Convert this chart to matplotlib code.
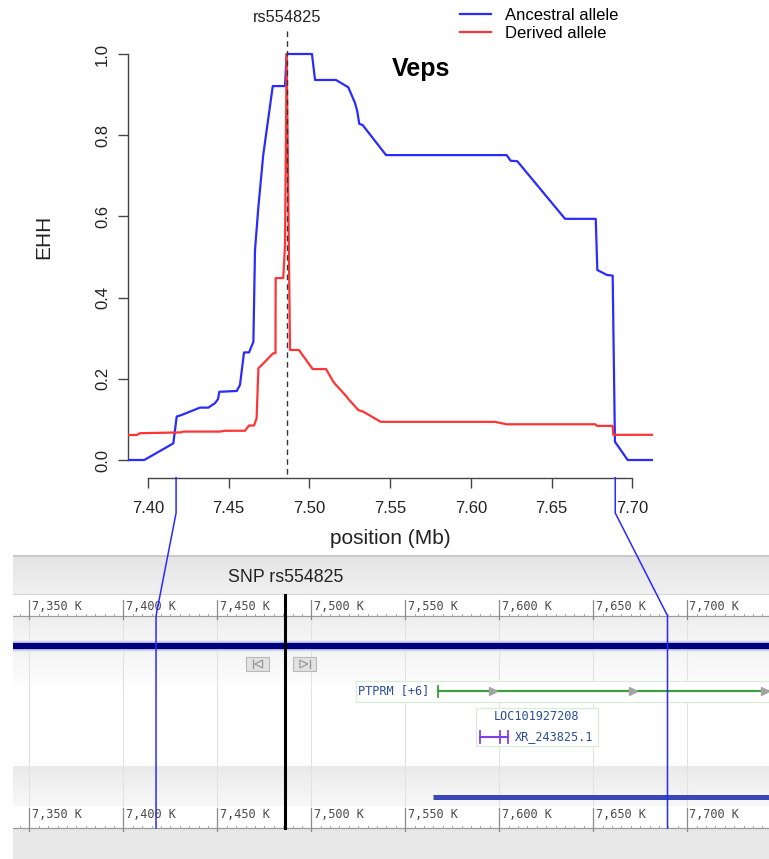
import numpy as np
import matplotlib
matplotlib.use("Agg")
import matplotlib.pyplot as plt
from matplotlib.patches import Rectangle, Polygon

# ---------------- data ----------------
pos_anc = [7.3878, 7.3977, 7.4157, 7.4178, 7.4209, 7.4322, 7.4374, 7.4415, 7.4434, 7.4442,
           7.4550, 7.4570, 7.4595, 7.4626, 7.4653, 7.4663, 7.4684, 7.4714, 7.4773, 7.4849,
           7.4859, 7.5016, 7.5035, 7.5165, 7.5241, 7.5283, 7.5297, 7.5309, 7.5330, 7.5475,
           7.6222, 7.6247, 7.6288, 7.6584, 7.6774, 7.6784, 7.6842, 7.6879, 7.6893, 7.6972, 7.7127]
ehh_anc = [0.0, 0.0, 0.041, 0.107, 0.111, 0.129, 0.129, 0.140, 0.150, 0.168,
           0.170, 0.185, 0.265, 0.265, 0.291, 0.517, 0.624, 0.751, 0.921, 0.921,
           1.0, 1.0, 0.936, 0.936, 0.918, 0.879, 0.858, 0.828, 0.825, 0.751,
           0.751, 0.737, 0.736, 0.594, 0.594, 0.468, 0.456, 0.454, 0.045, 0.0, 0.0]

pos_der = [7.3878, 7.3930, 7.3950, 7.4204, 7.4219, 7.4446, 7.4477, 7.4601, 7.4626, 7.4657,
           7.4673, 7.4684, 7.4705, 7.4776, 7.4790, 7.4791, 7.4838, 7.4849, 7.4859, 7.4880,
           7.4935, 7.5020, 7.5103, 7.5148, 7.5160, 7.5231, 7.5240, 7.5303, 7.5334, 7.5442,
           7.6150, 7.6222, 7.6770, 7.6784, 7.6879, 7.6883, 7.7127]
ehh_der = [0.0616, 0.0616, 0.066, 0.068, 0.070, 0.070, 0.072, 0.072, 0.085, 0.085,
           0.103, 0.226, 0.234, 0.263, 0.263, 0.448, 0.448, 0.530, 1.0, 0.271,
           0.271, 0.224, 0.224, 0.193, 0.187, 0.156, 0.151, 0.123, 0.119, 0.094,
           0.094, 0.088, 0.088, 0.084, 0.084, 0.062, 0.062]

snp_name = "rs554825"
snp_pos_mb = 7.4862
region_mb = [7.4174, 7.6895]
title = "Veps"
series_labels = ["Ancestral allele", "Derived allele"]
x_ticks = [7.40, 7.45, 7.50, 7.55, 7.60, 7.65, 7.70]
y_ticks = [0.0, 0.2, 0.4, 0.6, 0.8, 1.0]

ruler_k = [7350, 7400, 7450, 7500, 7550, 7600, 7650, 7700]
gene_ptprm = ("PTPRM [+6]", 7567.4)
gene_loc = ("LOC101927208", "XR_243825.1", 7589.7, 7604.6)
track_bar_start_k = 7565.0

BLUE = "#2b2bff"
RED = "#ff3434"
FONT = "Liberation Sans"
MONO = "DejaVu Sans Mono"

W, H = 769, 859
fig = plt.figure(figsize=(W / 100, H / 100), dpi=100)
fig.patch.set_facecolor("white")

def fx(px):
    return px / W

def fy(py):
    return 1 - py / H

# ---------------- genome browser panel ----------------
gb_left, gb_top = 13, 555
gb = fig.add_axes([fx(gb_left), 0, fx(W - gb_left), (H - gb_top) / H])
gb.set_xlim(7341.3, 7743.5)
gb.set_ylim(H, gb_top)
gb.axis("off")
x0, x1 = gb.get_xlim()

def grad(y0, y1, c0, c1, z=0):
    a = np.linspace(0, 1, 64)[:, None]
    c0 = np.array(matplotlib.colors.to_rgb(c0))
    c1 = np.array(matplotlib.colors.to_rgb(c1))
    img = (c0[None, None, :] * (1 - a[..., None]) + c1[None, None, :] * a[..., None])
    img = np.repeat(img, 2, axis=1)
    gb.imshow(img, extent=(x0, x1, y1, y0), aspect="auto", zorder=z, interpolation="bilinear")

grad(555, 594, "#e4e4e4", "#f0f0f0")
gb.plot([x0, x1], [555.5, 555.5], color="#c4c4c4", lw=1.2, zorder=1)
gb.plot([x0, x1], [594, 594], color="#d6d6d6", lw=0.8, zorder=1)
grad(617, 642, "#eeeeee", "#f6f6f6")
grad(651, 690, "#f4f4f4", "#ffffff")
grad(766, 806, "#eaeaea", "#f8f8f8")
gb.add_patch(Rectangle((x0, 829), x1 - x0, H - 829, facecolor="#e8e8e8", edgecolor="none", zorder=0))

# vertical grid lines
for k in ruler_k:
    gb.plot([k, k], [617, 806], color="#e2e2e2", lw=0.8, zorder=1)

# rulers
def ruler(base, top, label_y):
    gb.plot([x0, x1], [base, base], color="#9a9a9a", lw=0.9, zorder=3)
    for k in np.arange(7340, 7745, 5):
        if k % 50 == 0:
            continue
        gb.plot([k, k], [base, base - 2.5], color="#a8a8a8", lw=0.7, zorder=3)
    for k in ruler_k:
        gb.plot([k, k], [top, base + 3], color="#8a8a8a", lw=0.9, zorder=3)
        gb.text(k + 1.2, label_y, f"{k // 1000},{k % 1000:03d} K", fontsize=8.6,
                family=MONO, color="#4a4a4a", ha="left", va="center", zorder=4)

ruler(616, 600, 607)
ruler(828, 808, 815)

# SNP label in header
gb.text(snp_pos_mb * 1000, 577, "SNP " + snp_name, fontsize=12.8, family=FONT,
        color="#222222", ha="center", va="center", zorder=4)

# navy chromosome line
gb.plot([x0, x1], [646.3, 646.3], color="#cdd3ee", lw=7.5, zorder=3, solid_capstyle="butt")
gb.plot([x0, x1], [646.3, 646.3], color="#00007a", lw=4.5, zorder=3, solid_capstyle="butt")

# buttons
def button(xc, direction):
    w, h = 12.5, 14
    gb.add_patch(Rectangle((xc - w / 2, 657), w, h, facecolor="#e2e2e2", edgecolor="#b8b8b8",
                           lw=0.8, zorder=4))
    yc = 664
    if direction < 0:
        gb.plot([xc - 2.6, xc - 2.6], [yc - 4, yc + 4], color="#9a9a9a", lw=1.0, zorder=5)
        gb.add_patch(Polygon([[xc + 2.6, yc - 4], [xc + 2.6, yc + 4], [xc - 1.6, yc]],
                             closed=True, facecolor="none", edgecolor="#9a9a9a", lw=0.9, zorder=5))
    else:
        gb.plot([xc + 2.6, xc + 2.6], [yc - 4, yc + 4], color="#9a9a9a", lw=1.0, zorder=5)
        gb.add_patch(Polygon([[xc - 2.6, yc - 4], [xc - 2.6, yc + 4], [xc + 1.6, yc]],
                             closed=True, facecolor="none", edgecolor="#9a9a9a", lw=0.9, zorder=5))

button(7471.5, -1)
button(7496.5, 1)

# PTPRM gene
gb.add_patch(Rectangle((7523.6, 680.7), x1 - 7523.6 + 5, 21, facecolor="white",
                       edgecolor="#d8ecd8", lw=0.9, zorder=3))
gb.text(7525.0, 691, gene_ptprm[0], fontsize=8.6, family=MONO, color="#2b4d96",
        ha="left", va="center", zorder=5)
gb.plot([gene_ptprm[1], x1], [691, 691], color="#3f9c3f", lw=1.6, zorder=5)
gb.plot([gene_ptprm[1], gene_ptprm[1]], [685.5, 696.5], color="#3f9c3f", lw=1.3, zorder=5)
for k in [7596.5, 7671.0, 7741.5]:
    gb.plot([k], [691], marker=">", ms=6, color="#a4a4a4", mec="#a4a4a4", zorder=6)

# LOC gene
gb.add_patch(Rectangle((7587.6, 707.7), 7652.7 - 7587.6, 38.3, facecolor="white",
                       edgecolor="#d8ecd8", lw=0.9, zorder=3))
gb.text(7620.0, 716, gene_loc[0], fontsize=8.6, family=MONO, color="#2b4d96",
        ha="center", va="center", zorder=5)
gb.plot([gene_loc[2], gene_loc[3]], [737, 737], color="#8040e8", lw=1.5, zorder=5)
for k in [gene_loc[2], gene_loc[3] - 4.2, gene_loc[3]]:
    gb.plot([k, k], [731, 743], color="#8040e8", lw=1.3, zorder=5)
gb.text(gene_loc[3] + 3.7, 737, gene_loc[1], fontsize=8.6, family=MONO, color="#2b4d96",
        ha="left", va="center", zorder=5)

# blue track bar at bottom
gb.plot([track_bar_start_k, x1], [796.7, 796.7], color="#3848b8", lw=3.6, zorder=5,
        solid_capstyle="butt")

# SNP black line
gb.plot([snp_pos_mb * 1000] * 2, [595, 828], color="black", lw=2.2, zorder=7)

# ---------------- EHH plot ----------------
ax_l, ax_r, ax_t, ax_b = 128.3, 652.7, 37.8, 477.7
ax = fig.add_axes([fx(ax_l), fy(ax_b), fx(ax_r - ax_l), (ax_b - ax_t) / H])
ax.patch.set_alpha(0)
ax.set_xlim(pos_anc[0], pos_anc[-1])
y_bottom = -(ax_b - 460) / 406
ax.set_ylim(y_bottom, y_bottom + (ax_b - ax_t) / 406)

ax.plot(pos_anc, ehh_anc, color=BLUE, lw=1.6, label=series_labels[0], zorder=3)
ax.plot(pos_der, ehh_der, color=RED, lw=1.6, label=series_labels[1], zorder=3)

for s in ["top", "right"]:
    ax.spines[s].set_visible(False)
ax.spines["left"].set_bounds(0, 1)
ax.spines["bottom"].set_bounds(x_ticks[0], x_ticks[-1])
for s in ["left", "bottom"]:
    ax.spines[s].set_color("#444444")
    ax.spines[s].set_linewidth(1.0)

ax.set_xticks(x_ticks)
ax.set_xticklabels([f"{v:.2f}" for v in x_ticks])
ax.set_yticks(y_ticks)
ax.set_yticklabels([f"{v:.1f}" for v in y_ticks])
ax.tick_params(axis="x", length=7, width=1.0, color="#444444", pad=10, labelsize=12)
ax.tick_params(axis="y", length=7.2, width=1.0, color="#444444", pad=6, labelsize=12,
               labelrotation=90)
for lab in ax.get_yticklabels():
    lab.set_va("center")
for lab in ax.get_xticklabels() + ax.get_yticklabels():
    lab.set_family(FONT)
    lab.set_color("#222222")

ax.set_xlabel("position (Mb)", fontsize=15, family=FONT, color="#222222", labelpad=6)
ax.set_ylabel("EHH", fontsize=15, family=FONT, color="#222222")
ax.yaxis.set_label_coords((53 - ax_l) / (ax_r - ax_l), (ax_b - 237) / (ax_b - ax_t))
ax.xaxis.set_label_coords(0.5, -(539 - ax_b) / (ax_b - ax_t))
ax.xaxis.label.set_va("center")

leg = ax.legend(loc="upper left", bbox_to_anchor=(fx(460), fy(8)),
                bbox_transform=fig.transFigure, frameon=False,
                handlelength=1.85, handletextpad=0.85, labelspacing=0.15,
                borderpad=0, borderaxespad=0, prop={"family": FONT, "size": 12})

# ---------------- overlay (figure pixel space) ----------------
ov = fig.add_axes([0, 0, 1, 1])
ov.set_xlim(0, W)
ov.set_ylim(H, 0)
ov.axis("off")
ov.patch.set_alpha(0)

fig.canvas.draw()

def to_px(trans, pt):
    x, y = trans.transform(pt)
    return x, H - y

# dashed SNP line
sx, _ = to_px(ax.transData, (snp_pos_mb, 0))
ov.plot([sx, sx], [31, ax_b - 1], color="#333333", lw=1.0, ls=(0, (4, 3)), zorder=10)
ov.text(sx, 17, snp_name, fontsize=11.8, family=FONT, color="#222222",
        ha="center", va="center")
ov.text(421, 69, title, fontsize=18, family=FONT, weight="bold", color="black",
        ha="center", va="center")

# connector lines
for mb in region_mb:
    tx, _ = to_px(ax.transData, (mb, 0))
    bx, _ = to_px(gb.transData, (mb * 1000, 700))
    ov.plot([tx, tx, bx, bx], [ax_b, 513, 615.7, 828], color="#2a2aff", lw=1.1, zorder=9)

fig.savefig("out.png", dpi=100, facecolor="white")
